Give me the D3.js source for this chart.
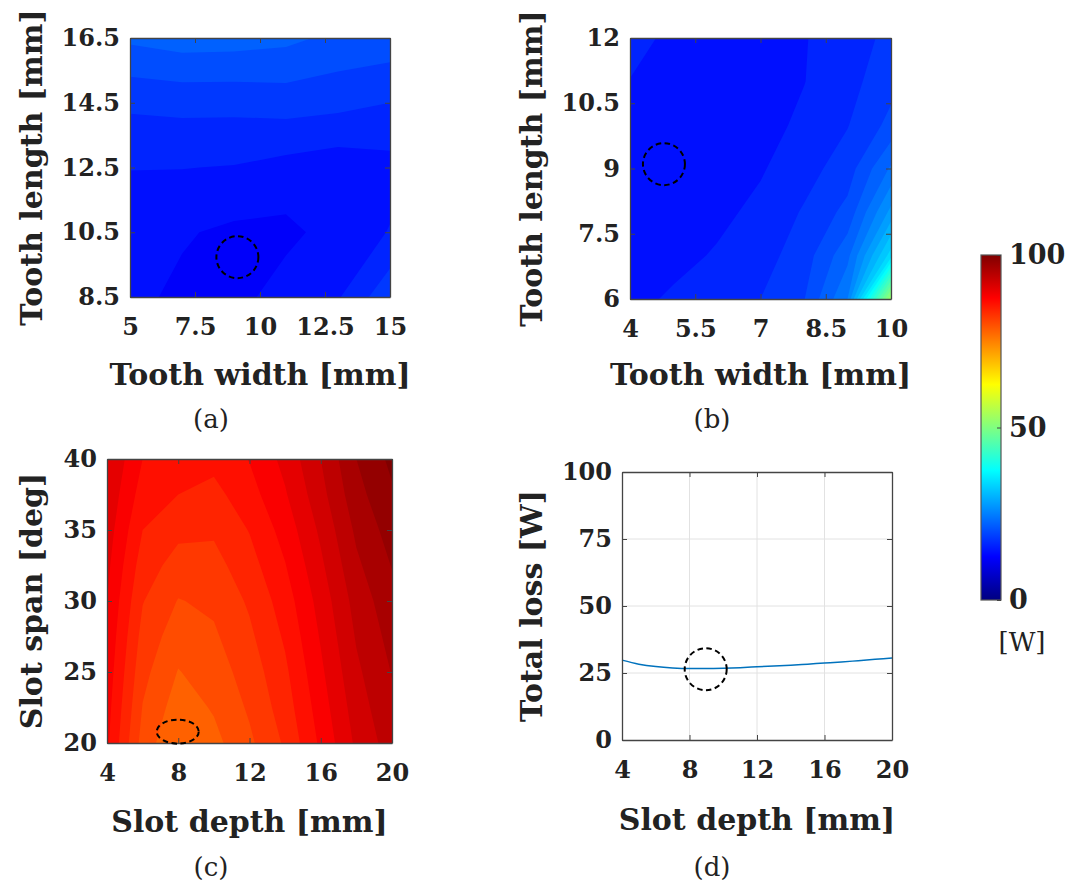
<!DOCTYPE html>
<html>
<head>
<meta charset="utf-8">
<script src="https://cdn.jsdelivr.net/npm/d3@7"></script>
<style>
body { margin: 0; background: #fff; }
text { font-family: "DejaVu Serif", serif; fill: #222; }
</style>
</head>
<body>
<script>
// (a) tooth width x tooth length, grid rows listed from the top (16.5) down
var aWidth = [5, 7, 9, 11, 13, 15];
var aLength = [16.5, 14.5, 12.5, 10.5, 8.5];
var aLoss = [
  22.4, 23.0, 22.9, 22.5, 21.5, 21.2,
  18.4, 18.6, 18.6, 18.9, 18.6, 18.0,
  16.05, 16.05, 15.9, 15.3, 14.8, 15.3,
  15.0, 14.2, 13.6, 13.5, 14.8, 16.1,
  14.5, 13.6, 13.3, 14.9, 15.8, 19.5
];

// (b)
var bWidth = [4, 5, 6, 7, 8, 9, 10];
var bLength = [12, 11, 10, 9, 8, 7, 6];
var bLoss = [
  16.6, 15.6, 15.3, 15.4, 15.9, 16.9, 18.6,
  15.95, 15.2, 14.9, 15.1, 15.95, 17.3, 19.3,
  15.3, 14.8, 14.8, 15.3, 16.4, 17.9, 20.6,
  15.0, 14.7, 15.0, 15.8, 17.2, 19.0, 24.3,
  14.9, 14.9, 15.5, 16.5, 18.2, 20.6, 28.6,
  15.1, 15.4, 16.2, 17.2, 19.0, 23.4, 35.0,
  15.4, 16.3, 17.0, 18.0, 19.9, 26.0, 54.0
];

// (c)
var cDepth = [4, 6, 8, 10, 12, 14, 16, 18, 20];
var cSpan = [40, 37.5, 35, 32.5, 30, 27.5, 25, 22.5, 20];
var cLoss = [
  92.0, 88.0, 87.2, 86.6, 88.1, 90.6, 94.0, 98.0, 100.5,
  91.5, 87.1, 86.0, 85.4, 87.2, 89.8, 93.3, 97.3, 99.7,
  91.0, 86.0, 84.5, 84.3, 86.1, 88.8, 92.4, 96.4, 98.9,
  90.5, 85.0, 83.2, 83.3, 85.2, 87.9, 91.6, 95.6, 98.1,
  90.0, 84.1, 81.9, 82.4, 84.3, 87.0, 90.8, 94.8, 97.3,
  89.6, 83.3, 80.9, 81.7, 83.6, 86.3, 90.2, 94.2, 96.7,
  89.2, 82.6, 79.9, 81.0, 82.9, 85.6, 89.6, 93.6, 96.1,
  88.8, 81.9, 79.0, 80.2, 82.3, 85.0, 89.0, 93.0, 95.6,
  88.4, 81.2, 78.0, 79.4, 81.6, 84.3, 88.4, 92.4, 95.0
];

// (d)
var dDepth = [4, 5, 6, 7, 8, 9, 10, 11, 12, 13, 14, 15, 16, 17, 18, 19, 20];
var dLoss = [29.8, 28.3, 27.4, 26.9, 26.7, 26.7, 26.8, 27.0, 27.3, 27.6, 27.9, 28.3, 28.7, 29.1, 29.6, 30.1, 30.6];

// chosen designs (dashed circles)
var optA = [9.13, 9.73];
var optB = [4.78, 9.1];
var optC = [7.97, 20.8];
var optD = [8.96, 26.4];

var levels = d3.range(0, 101, 2);

var svg = d3.select("body")
  .append("svg")
    .attr("width", 1072)
    .attr("height", 883);

// matlab jet
function jet(t) {
  t = Math.max(0, Math.min(1, t));
  var c = function(v) { return Math.round(255 * Math.max(0, Math.min(1, 1.5 - Math.abs(4 * t - v)))); };
  return "rgb(" + c(3) + "," + c(2) + "," + c(1) + ")";
}

function panel(p) {
  var box = p.box;
  var x = d3.scaleLinear().domain(p.xDom).range([box.x0, box.x1]);
  var y = d3.scaleLinear().domain(p.yDom).range([box.y1, box.y0]);
  var g = svg.append("g");

  g.append("clipPath").attr("id", "clip" + p.id)
    .append("rect")
      .attr("x", box.x0).attr("y", box.y0)
      .attr("width", box.x1 - box.x0).attr("height", box.y1 - box.y0);

  if (p.loss) {
    var nx = p.xs.length, ny = p.ys.length;
    // d3.contours puts sample i at i + 0.5
    var gx = d3.scaleLinear().domain([0.5, nx - 0.5]).range([x(p.xs[0]), x(p.xs[nx - 1])]);
    var gy = d3.scaleLinear().domain([0.5, ny - 0.5]).range([y(p.ys[0]), y(p.ys[ny - 1])]);
    var path = d3.geoPath(d3.geoTransform({
      point: function(px, py) { this.stream.point(gx(px), gy(py)); }
    }));
    var cs = d3.contours().size([nx, ny]).thresholds(levels)(p.loss);
    g.append("g")
      .attr("clip-path", "url(#clip" + p.id + ")")
      .selectAll("path")
      .data(cs)
      .join("path")
        .attr("d", path)
        .attr("fill", function(d) { return jet(d.value / 100); });
  }

  if (p.grid) {
    var gr = g.append("g").attr("stroke", "#e2e2e2").attr("stroke-width", 1);
    gr.selectAll(".gx").data(p.xTicks.slice(1, -1)).join("line")
      .attr("x1", function(d) { return x(d); }).attr("x2", function(d) { return x(d); })
      .attr("y1", box.y0).attr("y2", box.y1);
    gr.selectAll(".gy").data(p.yTicks.slice(1, -1)).join("line")
      .attr("y1", function(d) { return y(d); }).attr("y2", function(d) { return y(d); })
      .attr("x1", box.x0).attr("x2", box.x1);
  }

  if (p.line) {
    g.append("path")
      .datum(p.line.x.map(function(v, i) { return [v, p.line.y[i]]; }))
      .attr("fill", "none")
      .attr("stroke", "#0072BD")
      .attr("stroke-width", 1.5)
      .attr("d", d3.line()
        .x(function(d) { return x(d[0]); })
        .y(function(d) { return y(d[1]); })
        .curve(d3.curveMonotoneX));
  }

  var fmt = function(d) { return d; };
  function style(a) {
    a.attr("font-family", null).attr("font-size", null).attr("color", "#444");
    a.selectAll("text").attr("font-size", 24).attr("font-weight", "bold");
    a.selectAll("path.domain").attr("stroke-width", 1.3);
  }
  g.append("g").attr("transform", "translate(0," + box.y1 + ")")
    .call(d3.axisBottom(x).tickValues(p.xTicks).tickFormat(fmt).tickSizeInner(-5).tickSizeOuter(0).tickPadding(21))
    .call(style);
  g.append("g").attr("transform", "translate(0," + box.y0 + ")")
    .call(d3.axisTop(x).tickValues(p.xTicks).tickFormat("").tickSizeInner(-5).tickSizeOuter(0))
    .call(style);
  g.append("g").attr("transform", "translate(" + box.x0 + ",0)")
    .call(d3.axisLeft(y).tickValues(p.yTicks).tickFormat(fmt).tickSizeInner(-5).tickSizeOuter(0).tickPadding(10))
    .call(style);
  g.append("g").attr("transform", "translate(" + box.x1 + ",0)")
    .call(d3.axisRight(y).tickValues(p.yTicks).tickFormat("").tickSizeInner(-5).tickSizeOuter(0))
    .call(style);

  // dashed marker
  g.append("ellipse")
    .attr("cx", x(p.opt[0]))
    .attr("cy", y(p.opt[1]))
    .attr("rx", 21)
    .attr("ry", p.ry || 21)
    .attr("fill", "none")
    .attr("stroke", "#000")
    .attr("stroke-width", 2)
    .attr("stroke-dasharray", "5.5,3.5");

  g.append("text")
    .attr("x", (box.x0 + box.x1) / 2)
    .attr("y", p.xTitleY)
    .attr("text-anchor", "middle")
    .attr("font-size", 30)
    .attr("font-weight", "bold")
    .text(p.xTitle);

  g.append("text")
    .attr("transform", "translate(" + p.yTitleX + "," + (box.y0 + box.y1) / 2 + ") rotate(-90)")
    .attr("text-anchor", "middle")
    .attr("font-size", 30)
    .attr("font-weight", "bold")
    .text(p.yTitle);

  g.append("text")
    .attr("x", p.cap[0])
    .attr("y", p.cap[1])
    .attr("text-anchor", "middle")
    .attr("font-size", 26)
    .text(p.caption);
}

panel({
  id: "a", box: {x0: 130, x1: 390, y0: 38, y1: 297},
  xDom: [5, 15], yDom: [8.5, 16.5],
  xTicks: [5, 7.5, 10, 12.5, 15], yTicks: [8.5, 10.5, 12.5, 14.5, 16.5],
  xs: aWidth, ys: aLength, loss: aLoss, opt: optA,
  xTitle: "Tooth width [mm]", yTitle: "Tooth length [mm]",
  xTitleY: 385, yTitleX: 42, caption: "(a)", cap: [211, 428]
});

panel({
  id: "b", box: {x0: 630, x1: 891, y0: 38, y1: 299},
  xDom: [4, 10], yDom: [6, 12],
  xTicks: [4, 5.5, 7, 8.5, 10], yTicks: [6, 7.5, 9, 10.5, 12],
  xs: bWidth, ys: bLength, loss: bLoss, opt: optB,
  xTitle: "Tooth width [mm]", yTitle: "Tooth length [mm]",
  xTitleY: 385, yTitleX: 542, caption: "(b)", cap: [712, 428]
});

panel({
  id: "c", box: {x0: 107, x1: 392, y0: 459, y1: 743},
  xDom: [4, 20], yDom: [20, 40],
  xTicks: [4, 8, 12, 16, 20], yTicks: [20, 25, 30, 35, 40],
  xs: cDepth, ys: cSpan, loss: cLoss, opt: optC, ry: 12,
  xTitle: "Slot depth [mm]", yTitle: "Slot span [deg]",
  xTitleY: 832, yTitleX: 42, caption: "(c)", cap: [211, 876]
});

panel({
  id: "d", box: {x0: 622, x1: 892, y0: 472, y1: 740},
  xDom: [4, 20], yDom: [0, 100],
  xTicks: [4, 8, 12, 16, 20], yTicks: [0, 25, 50, 75, 100],
  grid: true, line: {x: dDepth, y: dLoss}, opt: optD,
  xTitle: "Slot depth [mm]", yTitle: "Total loss [W]",
  xTitleY: 830, yTitleX: 542, caption: "(d)", cap: [712, 876]
});

// colorbar
var cbar = {x0: 981, x1: 1001, y0: 255, y1: 600};
var cy = d3.scaleLinear().domain([0, 100]).range([cbar.y1, cbar.y0]);
var grad = svg.append("defs").append("linearGradient")
  .attr("id", "jetGrad")
  .attr("x1", 0).attr("y1", 1).attr("x2", 0).attr("y2", 0);
grad.selectAll("stop")
  .data(d3.range(0, 1.0001, 0.0625))
  .join("stop")
    .attr("offset", function(d) { return d; })
    .attr("stop-color", function(d) { return jet(d); });
svg.append("rect")
  .attr("x", cbar.x0).attr("y", cbar.y0)
  .attr("width", cbar.x1 - cbar.x0).attr("height", cbar.y1 - cbar.y0)
  .attr("fill", "url(#jetGrad)")
  .attr("stroke", "#555")
  .attr("stroke-width", 1.2);
svg.append("g")
  .attr("transform", "translate(" + cbar.x1 + ",0)")
  .call(d3.axisRight(cy).tickValues([0, 50, 100]).tickSizeInner(-4).tickSizeOuter(0).tickPadding(8))
  .call(function(a) {
    a.attr("font-family", null).attr("font-size", null).attr("color", "#444");
    a.select("path.domain").remove();
    a.selectAll("text").attr("font-size", 27).attr("font-weight", "bold");
  });
svg.append("text")
  .attr("x", 1022)
  .attr("y", 651)
  .attr("text-anchor", "middle")
  .attr("font-size", 26)
  .text("[W]");
</script>
</body>
</html>
